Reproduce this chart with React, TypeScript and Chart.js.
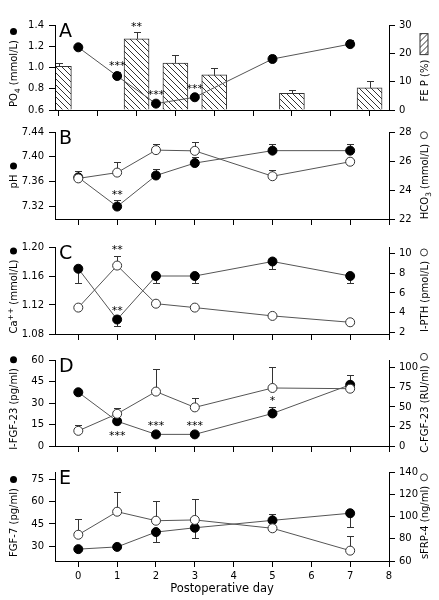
import React, { useEffect, useRef } from "react";
import { Chart, registerables } from "chart.js";

Chart.register(...registerables);

const FONT = '"DejaVu Sans", Verdana, sans-serif';

// ---- shared x values ----
const days = [0, 1, 2, 3, 5, 7];
const fePDays = [-0.5, 1.5, 2.5, 3.5, 5.5, 7.5];
const dayTicks = [0, 1, 2, 3, 4, 5, 6, 7, 8];

// ---- panel A ----
const po4 = [1.19, 0.92, 0.66, 0.72, 1.08, 1.22];
const po4Err = [null, 0.96, null, null, 1.12, 1.26];
const feP = [15.4, 25.1, 16.6, 12.4, 5.9, 7.8];
const fePErr = [16.6, 27.5, 19.3, 14.8, 7.0, 10.1];
const po4Ticks = [0.6, 0.8, 1.0, 1.2, 1.4];
const fePTicks = [0, 10, 20, 30];

// ---- panel B ----
const pH = [7.367, 7.32, 7.37, 7.39, 7.41, 7.41];
const pHErr = [7.378, 7.33, 7.38, 7.4, 7.42, 7.42];
const hco3 = [24.8, 25.2, 26.75, 26.7, 24.95, 25.95];
const hco3Err = [null, 25.9, 27.15, 27.3, 25.35, null];
const pHTicks = [7.32, 7.36, 7.4, 7.44];
const hco3Ticks = [22, 24, 26, 28];

// ---- panel C ----
const ca = [1.17, 1.1, 1.16, 1.16, 1.18, 1.16];
const caErr = [1.15, 1.091, 1.15, 1.15, 1.17, 1.15];
const pth = [4.5, 8.8, 4.9, 4.5, 3.65, 3.0];
const pthErr = [null, 9.8, null, null, null, null];
const caTicks = [1.08, 1.12, 1.16, 1.2];
const pthTicks = [2, 4, 6, 8, 10];

// ---- panel D ----
const iFgf23 = [37.5, 17.3, 8.1, 8.1, 22.7, 42.7];
const iFgf23Err = [null, null, null, null, 27.4, 49.5];
const cFgf23 = [19.4, 41.2, 69.6, 49.4, 74.2, 73.3];
const cFgf23Err = [26.8, 49, 98.5, 61.4, 101, 78];
const iFgfTicks = [0, 15, 30, 45, 60];
const cFgfTicks = [0, 25, 50, 75, 100];

// ---- panel E ----
const fgf7 = [28, 29.5, 39.5, 42.4, 47.4, 52.2];
const fgf7Err = [null, null, 32.6, 35.3, 52, 43.1];
const sfrp4 = [83.6, 104.3, 96.2, 96.9, 89.4, 69.3];
const sfrp4Err = [98, 121.7, 113.7, 116, 87, 82.2];
const fgf7Ticks = [30, 45, 60, 75];
const sfrpTicks = [60, 80, 100, 120, 140];

type Seg = { t: string; sub?: boolean; sup?: boolean };
type Axis = {
  min: number;
  max: number;
  ticks: number[];
  fmt: (v: number) => string;
  title: Seg[];
  marker: "filled" | "open" | "hatch";
};
type Series = {
  kind: "filled" | "open" | "bar";
  xs: number[];
  ys: number[];
  errs: (number | null)[];
  axis: "y" | "y1";
};
type Star = { s: number; i: number; text: string; below?: boolean };
type PanelSpec = {
  letter: string;
  areaTop: number;
  areaBottom: number;
  showX: boolean;
  left: Axis;
  right: Axis;
  series: Series[];
  stars: Star[];
};

const fmt1 = (v: number) => v.toFixed(1);
const fmt2 = (v: number) => v.toFixed(2);
const fmt0 = (v: number) => String(Math.round(v));

const panels: PanelSpec[] = [
  {
    letter: "A",
    areaTop: 25,
    areaBottom: 113,
    showX: false,
    left: { min: 0.6, max: 1.4, ticks: po4Ticks, fmt: fmt1, title: [{ t: "PO" }, { t: "4", sub: true }, { t: " (mmol/L)" }], marker: "filled" },
    right: { min: 0, max: 30, ticks: fePTicks, fmt: fmt0, title: [{ t: "FE P (%)" }], marker: "hatch" },
    series: [
      { kind: "bar", xs: fePDays, ys: feP, errs: fePErr, axis: "y1" },
      { kind: "filled", xs: days, ys: po4, errs: po4Err, axis: "y" },
    ],
    stars: [
      { s: 0, i: 1, text: "**" },
      { s: 1, i: 1, text: "***" },
      { s: 1, i: 2, text: "***" },
      { s: 1, i: 3, text: "***" },
    ],
  },
  {
    letter: "B",
    areaTop: 132,
    areaBottom: 222,
    showX: false,
    left: { min: 7.3, max: 7.44, ticks: pHTicks, fmt: fmt2, title: [{ t: "pH" }], marker: "filled" },
    right: { min: 22, max: 28, ticks: hco3Ticks, fmt: fmt0, title: [{ t: "HCO" }, { t: "3", sub: true }, { t: " (mmol/L)" }], marker: "open" },
    series: [
      { kind: "filled", xs: days, ys: pH, errs: pHErr, axis: "y" },
      { kind: "open", xs: days, ys: hco3, errs: hco3Err, axis: "y1" },
    ],
    stars: [{ s: 0, i: 1, text: "**" }],
  },
  {
    letter: "C",
    areaTop: 247,
    areaBottom: 337,
    showX: false,
    left: { min: 1.08, max: 1.2, ticks: caTicks, fmt: fmt2, title: [{ t: "Ca" }, { t: "++", sup: true }, { t: " (mmol/L)" }], marker: "filled" },
    right: { min: 1.8, max: 10.7, ticks: pthTicks, fmt: fmt0, title: [{ t: "I-PTH (pmol/L)" }], marker: "open" },
    series: [
      { kind: "filled", xs: days, ys: ca, errs: caErr, axis: "y" },
      { kind: "open", xs: days, ys: pth, errs: pthErr, axis: "y1" },
    ],
    stars: [
      { s: 0, i: 1, text: "**" },
      { s: 1, i: 1, text: "**" },
    ],
  },
  {
    letter: "D",
    areaTop: 360,
    areaBottom: 449,
    showX: false,
    left: { min: 0, max: 60, ticks: iFgfTicks, fmt: fmt0, title: [{ t: "I-FGF-23 (pg/ml)" }], marker: "filled" },
    right: { min: 0, max: 110, ticks: cFgfTicks, fmt: fmt0, title: [{ t: "C-FGF-23 (RU/ml)" }], marker: "open" },
    series: [
      { kind: "filled", xs: days, ys: iFgf23, errs: iFgf23Err, axis: "y" },
      { kind: "open", xs: days, ys: cFgf23, errs: cFgf23Err, axis: "y1" },
    ],
    stars: [
      { s: 0, i: 1, text: "***", below: true },
      { s: 0, i: 2, text: "***" },
      { s: 0, i: 3, text: "***" },
      { s: 0, i: 4, text: "*" },
    ],
  },
  {
    letter: "E",
    areaTop: 472,
    areaBottom: 561,
    showX: true,
    left: { min: 20, max: 80, ticks: fgf7Ticks, fmt: fmt0, title: [{ t: "FGF-7 (pg/ml)" }], marker: "filled" },
    right: { min: 60, max: 140, ticks: sfrpTicks, fmt: fmt0, title: [{ t: "sFRP-4 (ng/ml)" }], marker: "open" },
    series: [
      { kind: "filled", xs: days, ys: fgf7, errs: fgf7Err, axis: "y" },
      { kind: "open", xs: days, ys: sfrp4, errs: sfrp4Err, axis: "y1" },
    ],
    stars: [],
  },
];

const PAD_TOP = 14;
const PAD_BOTTOM = 2;
const xHeight = (p: PanelSpec) => (p.showX ? 38 : 6);
const canvasHeight = (p: PanelSpec) => PAD_TOP + (p.areaBottom - p.areaTop) + xHeight(p) + PAD_BOTTOM;

function makeHatch(): CanvasPattern | string {
  const s = 6;
  const c = document.createElement("canvas");
  c.width = s;
  c.height = s;
  const g = c.getContext("2d");
  if (!g) return "#fff";
  g.fillStyle = "#fff";
  g.fillRect(0, 0, s, s);
  g.strokeStyle = "#333";
  g.lineWidth = 1;
  g.beginPath();
  g.moveTo(0, 0);
  g.lineTo(s, s);
  g.moveTo(-1, s - 1);
  g.lineTo(1, s + 1);
  g.moveTo(s - 1, -1);
  g.lineTo(s + 1, 1);
  g.stroke();
  return g.createPattern(c, "repeat") || "#fff";
}

function drawTitle(ctx: CanvasRenderingContext2D, cx: number, cy: number, segs: Seg[], marker: string, hatch: any) {
  const size = 10;
  const fontFor = (s: Seg) => `${s.sub || s.sup ? 7.5 : size}px ${FONT}`;
  ctx.save();
  ctx.translate(cx, cy);
  ctx.rotate(-Math.PI / 2);
  let textW = 0;
  const widths = segs.map((s) => {
    ctx.font = fontFor(s);
    const w = ctx.measureText(s.t).width;
    textW += w;
    return w;
  });
  const gap = 5;
  const mLen = marker === "hatch" ? 21 : 7;
  const total = textW + gap + mLen;
  let x = -total / 2;
  ctx.fillStyle = "#000";
  ctx.textAlign = "left";
  ctx.textBaseline = "alphabetic";
  segs.forEach((s, i) => {
    ctx.font = fontFor(s);
    ctx.fillText(s.t, x, 3.6 + (s.sub ? 3 : s.sup ? -4.5 : 0));
    x += widths[i];
  });
  x += gap;
  if (marker === "hatch") {
    ctx.fillStyle = hatch;
    ctx.fillRect(x, -4, mLen, 8);
    ctx.strokeStyle = "#333";
    ctx.lineWidth = 1;
    ctx.strokeRect(x, -4, mLen, 8);
  } else {
    ctx.beginPath();
    ctx.arc(x + 3.5, 0, 3.5, 0, Math.PI * 2);
    if (marker === "filled") {
      ctx.fillStyle = "#000";
      ctx.fill();
    } else {
      ctx.fillStyle = "#fff";
      ctx.fill();
      ctx.strokeStyle = "#333";
      ctx.lineWidth = 1;
      ctx.stroke();
    }
  }
  ctx.restore();
}

function makePlugin(spec: PanelSpec, hatch: any) {
  return {
    id: "extras" + spec.letter,
    beforeDatasetsDraw(chart: any) {
      const ctx: CanvasRenderingContext2D = chart.ctx;
      ctx.save();
      ctx.strokeStyle = "#333";
      ctx.lineWidth = 1;
      spec.series.forEach((s, di) => {
        const meta = chart.getDatasetMeta(di);
        const scale = chart.scales[s.axis];
        s.errs.forEach((e, i) => {
          if (e == null) return;
          const el = meta.data[i];
          if (!el) return;
          const x = Math.round(el.x) + 0.5;
          const y0 = el.y;
          const y1 = Math.round(scale.getPixelForValue(e)) + 0.5;
          ctx.beginPath();
          ctx.moveTo(x, y0);
          ctx.lineTo(x, y1);
          ctx.moveTo(x - 3.5, y1);
          ctx.lineTo(x + 3.5, y1);
          ctx.stroke();
        });
      });
      ctx.restore();
    },
    afterDraw(chart: any) {
      const ctx: CanvasRenderingContext2D = chart.ctx;
      const area = chart.chartArea;
      ctx.save();
      // panel letter
      ctx.fillStyle = "#000";
      ctx.font = `19px ${FONT}`;
      ctx.textAlign = "left";
      ctx.textBaseline = "alphabetic";
      ctx.fillText(spec.letter, area.left + 4, area.top + 12);
      // stars
      ctx.font = `11px ${FONT}`;
      ctx.textAlign = "center";
      spec.stars.forEach((st) => {
        const s = spec.series[st.s];
        const el = chart.getDatasetMeta(st.s).data[st.i];
        if (!el) return;
        const py = el.y;
        let y: number;
        if (st.below) {
          y = py + 11;
        } else {
          const e = s.errs[st.i];
          const ey = e == null ? py : chart.scales[s.axis].getPixelForValue(e);
          const top = Math.min(py, ey);
          y = Math.min(py - 12, top - 9);
        }
        ctx.fillText(st.text, el.x, y + 6.5);
      });
      ctx.restore();
      const cy = (area.top + area.bottom) / 2;
      drawTitle(ctx, 13.5, cy, spec.left.title, spec.left.marker, hatch);
      drawTitle(ctx, 424, cy, spec.right.title, spec.right.marker, hatch);
    },
  };
}

function yAxis(a: Axis, position: "left" | "right", width: number) {
  return {
    type: "linear",
    position,
    min: a.min,
    max: a.max,
    afterBuildTicks: (s: any) => {
      s.ticks = a.ticks.map((v) => ({ value: v }));
    },
    afterFit: (s: any) => {
      s.width = width;
    },
    grid: { display: true, drawOnChartArea: false, drawTicks: true, tickLength: 6, color: "#000", lineWidth: 1 },
    border: { display: true, color: "#000", width: 1, z: 1 },
    ticks: {
      autoSkip: false,
      padding: position === "left" ? 5 : 4,
      color: "#000",
      font: { family: FONT, size: 10 },
      callback: (v: any) => a.fmt(Number(v)),
    },
  };
}

function buildConfig(spec: PanelSpec, hatch: any): any {
  const datasets = spec.series.map((s) => {
    const data = s.xs.map((x, i) => ({ x, y: s.ys[i] }));
    if (s.kind === "bar") {
      return {
        type: "bar",
        data,
        yAxisID: s.axis,
        backgroundColor: hatch,
        borderColor: "#333",
        borderWidth: 1,
        barThickness: 25,
        clip: 0,
        order: 2,
      };
    }
    const filled = s.kind === "filled";
    return {
      type: "line",
      data,
      yAxisID: s.axis,
      borderColor: "#555",
      borderWidth: 1,
      pointRadius: 4.5,
      pointBackgroundColor: filled ? "#000" : "#fff",
      pointBorderColor: filled ? "#000" : "#333",
      pointBorderWidth: 1,
      tension: 0,
      fill: false,
      order: filled ? 1 : 0,
    };
  });
  return {
    type: "line",
    data: { datasets },
    options: {
      responsive: false,
      maintainAspectRatio: false,
      animation: false,
      events: [],
      layout: { padding: { top: PAD_TOP, bottom: PAD_BOTTOM, left: 0, right: 0 } },
      plugins: { legend: { display: false }, tooltip: { enabled: false }, title: { display: false } },
      scales: {
        x: {
          type: "linear",
          position: "bottom",
          min: -0.6,
          max: 8,
          offset: false,
          afterBuildTicks: (s: any) => {
            s.ticks = dayTicks.map((v) => ({ value: v }));
          },
          afterFit: (s: any) => {
            s.height = xHeight(spec);
          },
          grid: { display: true, drawOnChartArea: false, drawTicks: true, tickLength: 6, color: "#000", lineWidth: 1 },
          border: { display: true, color: "#000", width: 1, z: 1 },
          ticks: {
            display: spec.showX,
            autoSkip: false,
            maxRotation: 0,
            padding: 3,
            color: "#000",
            font: { family: FONT, size: 10 },
            callback: (v: any) => String(v),
          },
          title: {
            display: spec.showX,
            text: "Postoperative day",
            color: "#000",
            font: { family: FONT, size: 11.5 },
            padding: { top: 0, bottom: 3 },
          },
        },
        y: yAxis(spec.left, "left", 55),
        y1: yAxis(spec.right, "right", 50),
      },
    },
    plugins: [makePlugin(spec, hatch)],
  };
}

function Panel({ spec }: { spec: PanelSpec }) {
  const ref = useRef<HTMLCanvasElement>(null);
  const h = canvasHeight(spec);
  useEffect(() => {
    const canvas = ref.current;
    if (!canvas) return;
    const hatch = makeHatch();
    const chart = new Chart(canvas, buildConfig(spec, hatch));
    return () => chart.destroy();
  }, [spec]);
  return (
    <canvas
      ref={ref}
      width={439}
      height={h}
      style={{ position: "absolute", left: 0, top: spec.areaTop - PAD_TOP, width: 439, height: h, display: "block" }}
    />
  );
}

export default function App() {
  return (
    <div style={{ position: "absolute", left: 0, top: 0, width: 439, height: 600, background: "#fff", overflow: "hidden" }}>
      {panels.map((p) => (
        <Panel key={p.letter} spec={p} />
      ))}
    </div>
  );
}
